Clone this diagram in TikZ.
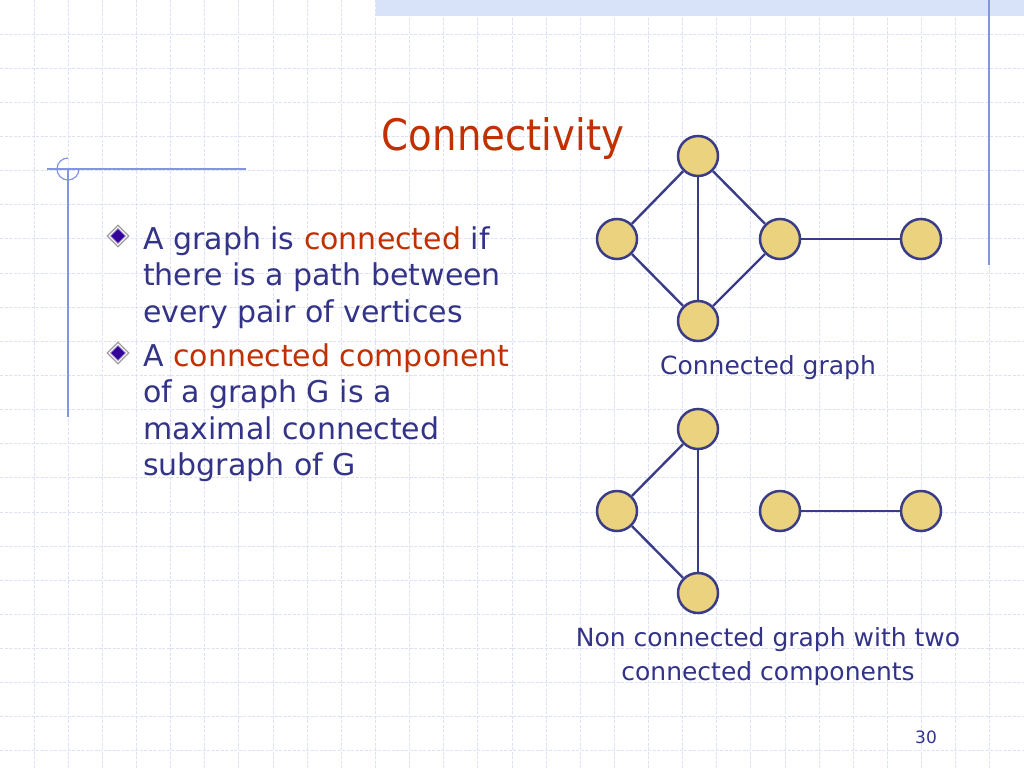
\documentclass[tikz,border=0pt]{standalone}
\usepackage{fontspec}
\setmainfont{DejaVu Sans}
\newfontfamily\titlefont[FakeStretch=0.89]{DejaVu Sans}
\definecolor{txtblue}{HTML}{333388}
\definecolor{txtred}{HTML}{C03000}
\definecolor{gridc}{HTML}{DDE1F5}
\definecolor{decor}{HTML}{8494E4}
\definecolor{band}{HTML}{D8E2F8}
\definecolor{vfill}{HTML}{EAD27E}
\definecolor{vline}{HTML}{3A3C88}
\definecolor{bulletc}{HTML}{330099}
\usetikzlibrary{shapes.geometric}
\tikzset{
  vertex/.style={circle,draw=vline,fill=vfill,line width=2.5pt,minimum size=40pt,inner sep=0pt},
  edge/.style={draw=vline,line width=2.4pt},
  bodytxt/.style={text=txtblue,align=left,inner sep=0pt,font=\fontsize{30}{36.5}\selectfont},
  captxt/.style={text=txtblue,align=center,inner sep=0pt,font=\fontsize{25}{34}\selectfont},
  bulletouter/.style={diamond,draw=gray!75,fill=white,line width=1.2pt,minimum size=22pt,inner sep=0pt},
  bulletinner/.style={diamond,draw=bulletc!55!white,fill=bulletc,line width=0.8pt,minimum size=15pt,inner sep=0pt},
}
\begin{document}
\begin{tikzpicture}[x=1pt,y=-1pt]
\useasboundingbox (0,0) rectangle (1024,768);
\fill[white] (0,0) rectangle (1024,768);
% grid
\foreach \i in {1,...,29} {
  \draw[gridc,line width=0.9pt,dash pattern=on 3pt off 1.5pt] ({\i*34.13},0) -- ({\i*34.13},768);
}
\foreach \j in {1,...,22} {
  \draw[gridc,line width=0.9pt,dash pattern=on 3pt off 1.5pt] (0,{\j*34.13}) -- (1024,{\j*34.13});
}
% top band and decorations
\fill[band] (376,0) rectangle (1024,16);
\draw[decor,line width=1.2pt] (989,0) -- (989,265);
\draw[decor,line width=1.2pt] (47,169) -- (246,169);
\draw[decor,line width=1.2pt] (68,169) -- (68,417);
\draw[decor,line width=1.2pt] (68,158) arc[start angle=-90,end angle=-360,radius=11];
% title
\node[text=txtred,anchor=base,inner sep=0pt,font=\titlefont\fontsize{43.4}{50}\selectfont] (title) at (503,150) {Connectivity};
% bullets
\node[bulletouter] (b1o) at (118,236) {};
\node[bulletinner] (b1) at (118,236) {};
\node[bodytxt,anchor=base west] (t1) at (143,322) {A graph is \textcolor{txtred}{connected} if\\there is a path between\\every pair of vertices};
\node[bulletouter] (b2o) at (118,353) {};
\node[bulletinner] (b2) at (118,353) {};
\node[bodytxt,anchor=base west] (t2) at (143,475.5) {A \textcolor{txtred}{connected component}\\of a graph G is a\\maximal connected\\subgraph of G};
% connected graph
\node[vertex] (a1) at (698,156) {};
\node[vertex] (a2) at (617,239) {};
\node[vertex] (a3) at (780,239) {};
\node[vertex] (a4) at (921,239) {};
\node[vertex] (a5) at (698,321) {};
\draw[edge] (a1) -- (a2);
\draw[edge] (a1) -- (a3);
\draw[edge] (a1) -- (a5);
\draw[edge] (a2) -- (a5);
\draw[edge] (a3) -- (a5);
\draw[edge] (a3) -- (a4);
\node[captxt,anchor=base] (c1) at (768,374) {Connected graph};
% non connected graph
\node[vertex] (n1) at (698,429) {};
\node[vertex] (n2) at (617,511) {};
\node[vertex] (n3) at (780,511) {};
\node[vertex] (n4) at (921,511) {};
\node[vertex] (n5) at (698,593) {};
\draw[edge] (n1) -- (n2);
\draw[edge] (n1) -- (n5);
\draw[edge] (n2) -- (n5);
\draw[edge] (n3) -- (n4);
\node[captxt,anchor=base] (c2) at (768,680) {Non connected graph with two\\connected components};
% page number
\node[text=txtblue,anchor=base,inner sep=0pt,font=\fontsize{17}{20}\selectfont] (pg) at (926,743) {30};
\end{tikzpicture}
\end{document}
